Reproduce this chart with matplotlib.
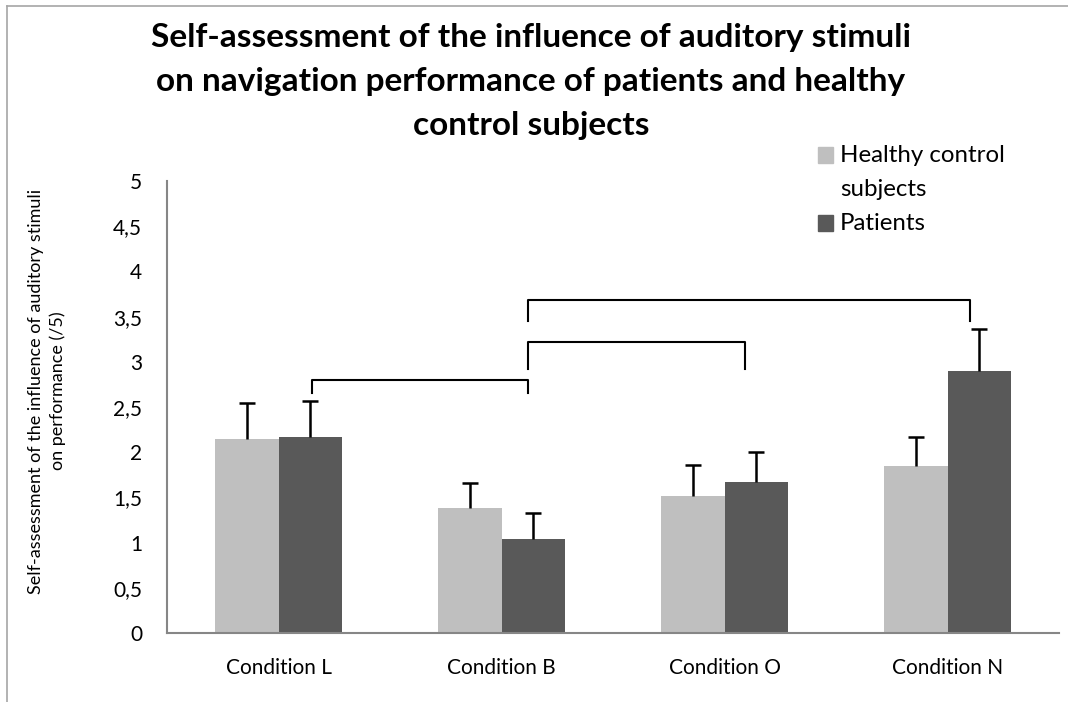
import numpy as np
from matplotlib import pyplot as plt
from matplotlib.lines import Line2D
from matplotlib.patches import Rectangle

categories = ['Condition L', 'Condition B', 'Condition O', 'Condition N']
series_names = ['Healthy control\nsubjects', 'Patients']
healthy = [2.15, 1.38, 1.52, 1.85]
healthy_err = [0.40, 0.28, 0.34, 0.32]
patients = [2.17, 1.04, 1.67, 2.90]
patients_err = [0.40, 0.29, 0.33, 0.46]

# significance brackets: start x, end x, top y, bottom y (data units)
br_x0 = [0.15, 1.12, 1.12]
br_x1 = [1.12, 2.09, 3.10]
br_top = [2.80, 3.22, 3.68]
br_bottom = [2.66, 2.92, 3.45]

colors = ['#BFBFBF', '#595959']

plt.rcParams['font.family'] = ['Lato', 'DejaVu Sans']

fig = plt.figure(figsize=(10.68, 7.02), dpi=100)
ax = fig.add_axes([0.1564, 0.0983, 0.8352, 0.6437])

x = np.arange(len(categories))
w = 0.285
ax.bar(x - w / 2, healthy, w, color=colors[0], zorder=2)
ax.bar(x + w / 2, patients, w, color=colors[1], zorder=2)
for xs, ys, es in [(x - w / 2, healthy, healthy_err), (x + w / 2, patients, patients_err)]:
    _, caps, _ = ax.errorbar(xs, ys, yerr=[np.zeros(4), es], fmt='none', ecolor='black',
                             elinewidth=1.8, capsize=5.5, capthick=1.8, zorder=3)
    caps[0].set_visible(False)

for a, b, t, lo in zip(br_x0, br_x1, br_top, br_bottom):
    ax.plot([a, a, b, b], [lo, t, t, lo], color='black', lw=1.5,
            solid_joinstyle='round', zorder=4, clip_on=False)

ax.set_xlim(-0.5, 3.5)
ax.set_ylim(0, 5)
ax.set_yticks(np.arange(0, 5.01, 0.5))
ax.set_yticklabels(['0', '0,5', '1', '1,5', '2', '2,5', '3', '3,5', '4', '4,5', '5'])
ax.set_xticks(x)
ax.set_xticklabels(categories)
ax.tick_params(axis='both', length=0, labelsize=15)
ax.tick_params(axis='y', pad=18)
ax.tick_params(axis='x', pad=18)
for s in ['top', 'right']:
    ax.spines[s].set_visible(False)
for s in ['left', 'bottom']:
    ax.spines[s].set_color('#868686')
    ax.spines[s].set_linewidth(1.5)

fig.text(0.044, 0.443, 'Self-assessment of the influence of auditory stimuli\non performance (/5)',
         rotation=90, ha='center', va='center', fontsize=13, linespacing=1.35)

fig.text(0.497, 0.8835, 'Self-assessment of the influence of auditory stimuli\n'
         'on navigation performance of patients and healthy\ncontrol subjects',
         ha='center', va='center', fontsize=24, fontweight='bold', linespacing=1.62)

# legend, Excel style: square sits on the first line of its label
W, H = 1068, 702
leg_rows = [155, 223]
for name, c, yc in zip(series_names, colors, leg_rows):
    fig.add_artist(Rectangle((818 / W, 1 - (yc + 7.5) / H), 15 / W, 15 / H,
                             transform=fig.transFigure, color=c))
    fig.text(840 / W, 1 - (yc - 10) / H, name, ha='left', va='top', fontsize=17.3,
             linespacing=1.75)

# chart border (top and left edges only, as cropped)
fig.add_artist(Line2D([7 / W, 7 / W], [0, 1 - 6 / H], transform=fig.transFigure,
                      color='#A6A6A6', lw=1.2))
fig.add_artist(Line2D([7 / W, 1], [1 - 6 / H, 1 - 6 / H], transform=fig.transFigure,
                      color='#A6A6A6', lw=1.2))

fig.savefig('out.png', dpi=100)
